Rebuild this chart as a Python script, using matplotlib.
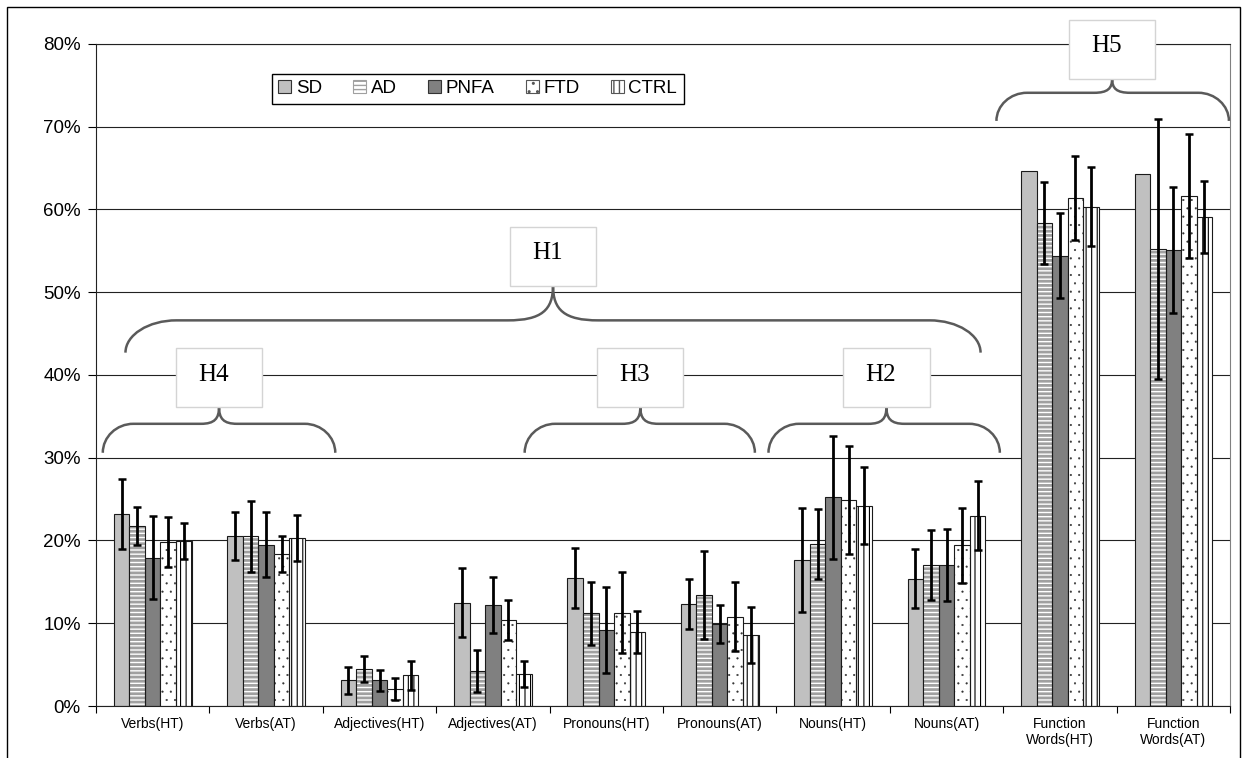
#! /usr/bin/env python3

import numpy as np
import matplotlib
matplotlib.use('Agg')
from matplotlib import pyplot as plt
from matplotlib.path import Path
from matplotlib.patches import PathPatch, Rectangle, Patch


plt.rcParams['font.family'] = ['Liberation Sans', 'DejaVu Sans']

categories = ['Verbs(HT)', 'Verbs(AT)', 'Adjectives(HT)', 'Adjectives(AT)',
              'Pronouns(HT)', 'Pronouns(AT)', 'Nouns(HT)', 'Nouns(AT)',
              'Function\nWords(HT)', 'Function\nWords(AT)']
groups = ['SD', 'AD', 'PNFA', 'FTD', 'CTRL']

# mean percentages and error bar half-lengths
sd = [23.2, 20.6, 3.1, 12.5, 15.5, 12.3, 17.6, 15.4, 64.7, 64.3]
sd_err = [4.2, 2.9, 1.65, 4.2, 3.6, 3.0, 6.3, 3.55, np.nan, np.nan]
ad = [21.7, 20.5, 4.45, 4.2, 11.2, 13.4, 19.6, 17.05, 58.4, 55.25]
ad_err = [2.3, 4.3, 1.55, 2.55, 3.8, 5.35, 4.2, 4.2, 4.95, 15.7]
pnfa = [17.9, 19.5, 3.1, 12.2, 9.15, 9.95, 25.2, 17.05, 54.4, 55.1]
pnfa_err = [5.0, 3.9, 1.25, 3.4, 5.2, 2.3, 7.4, 4.35, 5.15, 7.6]
ftd = [19.8, 18.4, 2.05, 10.4, 11.25, 10.8, 24.9, 19.4, 61.4, 61.65]
ftd_err = [3.0, 2.2, 1.3, 2.4, 4.9, 4.2, 6.5, 4.55, 5.05, 7.5]
ctrl = [19.95, 20.3, 3.7, 3.85, 8.9, 8.6, 24.2, 23.0, 60.35, 59.1]
ctrl_err = [2.2, 2.8, 1.75, 1.55, 2.55, 3.4, 4.65, 4.15, 4.8, 4.4]

yticks = [0, 10, 20, 30, 40, 50, 60, 70, 80]

# hypothesis braces (category units / percent)
brace_labels = ['H1', 'H2', 'H3', 'H4', 'H5']
brace_from = [-0.24, 5.43, 3.28, -0.44, 7.44]
brace_to = [7.30, 7.47, 5.31, 1.61, 9.49]
brace_tip = [3.53, 6.47, 4.30, 0.585, 8.46]
brace_base = [42.7, 30.6, 30.6, 30.6, 70.7]

values = [sd, ad, pnfa, ftd, ctrl]
errors = [sd_err, ad_err, pnfa_err, ftd_err, ctrl_err]

# face, hatch, hatch colour, hatch linewidth
styles = [
    ('#c0c0c0', None, None, None),
    ('white', '----', '#a0a0a0', 2.0),
    ('#808080', None, None, None),
    ('white', '..', '#333333', 0.3),
    ('white', '|||', 'black', 0.8),
]

fig = plt.figure(figsize=(12.45, 7.58), dpi=100)
ax = fig.add_axes([0.0771, 0.0686, 0.9109, 0.8734])

x = np.arange(len(categories))
width = 0.137

has_hlw = hasattr(Patch, 'set_hatch_linewidth')
plt.rcParams['hatch.linewidth'] = 1.0

for k, (vals, err, st) in enumerate(zip(values, errors, styles)):
    face, hatch, hcol, hlw = st
    pos = x + (k - 2) * width
    if hatch:
        with plt.rc_context({'hatch.linewidth': hlw}):
            bars = ax.bar(pos, vals, width, color=face, edgecolor=hcol,
                          hatch=hatch, linewidth=0, zorder=2)
        if has_hlw:
            for b in bars:
                b.set_hatch_linewidth(hlw)
        ax.bar(pos, vals, width, facecolor='none', edgecolor='#1a1a1a',
               linewidth=0.8, zorder=2.1)
    else:
        ax.bar(pos, vals, width, color=face, edgecolor='#1a1a1a',
               linewidth=0.8, zorder=2)
    err = np.array(err, dtype=float)
    ok = np.isfinite(err)
    ax.errorbar(pos[ok], np.array(vals)[ok], yerr=err[ok], fmt='none',
                ecolor='black', elinewidth=2.0, capsize=3.0, capthick=1.8,
                zorder=3)


def brace(x0, x1, xt, y0, r1, r2, w1, w2):
    ym = y0 + r1
    yt = ym + r2
    verts = [(x0, y0), (x0, y0 + r1 * 0.55), (x0 + w1 * 0.45, ym), (x0 + w1, ym),
             (xt - w2, ym),
             (xt - w2 * 0.25, ym), (xt, ym + r2 * 0.3), (xt, yt),
             (xt, ym + r2 * 0.3), (xt + w2 * 0.25, ym), (xt + w2, ym),
             (x1 - w1, ym),
             (x1 - w1 * 0.45, ym), (x1, y0 + r1 * 0.55), (x1, y0)]
    codes = [Path.MOVETO, Path.CURVE4, Path.CURVE4, Path.CURVE4, Path.LINETO,
             Path.CURVE4, Path.CURVE4, Path.CURVE4,
             Path.CURVE4, Path.CURVE4, Path.CURVE4,
             Path.LINETO, Path.CURVE4, Path.CURVE4, Path.CURVE4]
    return Path(verts, codes), yt


geom = {'H1': (3.9, 4.2, 0.45, 0.40),
        'H5': (3.4, 1.7, 0.27, 0.16)}
for lab, x0, x1, xt, y0 in zip(brace_labels, brace_from, brace_to,
                               brace_tip, brace_base):
    r1, r2, w1, w2 = geom.get(lab, (3.5, 2.05, 0.27, 0.16))
    path, yt = brace(x0, x1, xt, y0, r1, r2, w1, w2)
    ax.add_patch(PathPatch(path, fill=False, edgecolor='#5a5a5a',
                           linewidth=1.8, zorder=4, clip_on=False))
    ax.add_patch(Rectangle((xt - 0.38, yt), 0.76, 7.1, facecolor='white',
                           edgecolor='#d4d4d4', linewidth=1.0, zorder=5,
                           clip_on=False))
    ax.text(xt - 0.05, yt + 3.9, lab, ha='center', va='center',
            fontsize=18, family=['Liberation Serif', 'DejaVu Serif'],
            zorder=6, clip_on=False)

ax.set_xlim(-0.5, len(categories) - 0.5)
ax.set_ylim(0, 80)
ax.set_yticks(yticks)
ax.set_yticklabels([f'{v}%' for v in yticks])
ax.set_xticks(x)
ax.set_xticklabels(categories, fontsize=10)
ax.set_xticks(np.arange(-0.5, len(categories), 1), minor=True)
ax.tick_params(axis='x', which='major', length=0, pad=8)
ax.tick_params(axis='x', which='minor', length=5, width=0.8, direction='out')
ax.tick_params(axis='y', length=6, width=0.8, direction='out',
               labelsize=13.5, pad=5)

ax.set_axisbelow(True)
ax.yaxis.grid(True, color='#222222', linewidth=0.8)
for side in ['left', 'bottom', 'top']:
    ax.spines[side].set_color('#222222')
    ax.spines[side].set_linewidth(0.8)
ax.spines['right'].set_color('#808080')
ax.spines['right'].set_linewidth(0.8)

handles = []
for face, hatch, hcol, hlw in styles:
    if hatch:
        with plt.rc_context({'hatch.linewidth': hlw}):
            h = Patch(facecolor=face, edgecolor='#555555' if hcol != '#a0a0a0' else hcol,
                      hatch=hatch, linewidth=0.8)
        if has_hlw:
            h.set_hatch_linewidth(hlw)
        handles.append(h)
    else:
        handles.append(Patch(facecolor=face, edgecolor='#333333', linewidth=0.8))
leg = ax.legend(handles, groups, ncol=5, loc='upper left',
                bbox_to_anchor=(0.155, 0.955), frameon=True, fancybox=False,
                edgecolor='black', framealpha=1, fontsize=13.5,
                handlelength=0.7, handleheight=0.7, handletextpad=0.25,
                columnspacing=1.65, borderpad=0.35, borderaxespad=0)
leg.get_frame().set_linewidth(1.0)
leg.set_zorder(7)

fig.patches.append(Rectangle((0.0056, -0.01), 0.9905, 1.0007, fill=False,
                             edgecolor='black', linewidth=1.0,
                             transform=fig.transFigure, figure=fig))

fig.savefig('out.png', dpi=100)
